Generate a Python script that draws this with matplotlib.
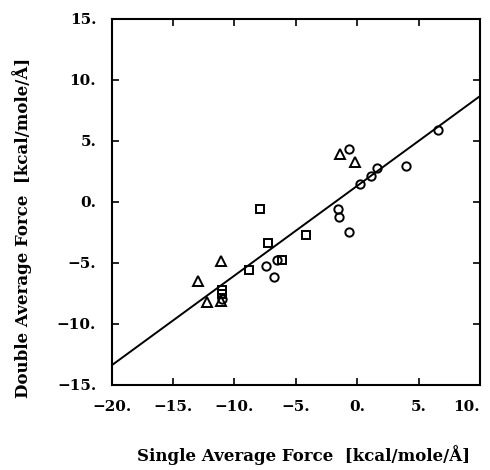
import matplotlib
matplotlib.use("Agg")
import matplotlib.pyplot as plt
import numpy as np

# Data
circle_x = [6.6, -0.65, 0.25, 1.15, 1.6, 3.95, -1.6, -1.45, -0.7, -7.4, -6.5, -6.75, -11.0]
circle_y = [5.9, 4.35, 1.45, 2.1, 2.75, 2.9, -0.6, -1.25, -2.45, -5.25, -4.8, -6.2, -8.0]
square_x = [-4.2, -7.95, -7.3, -6.1, -8.8, -11.0, -11.0]
square_y = [-2.7, -0.6, -3.4, -4.8, -5.6, -7.2, -7.55]
triangle_x = [-1.4, -0.15, -11.1, -13.0, -12.2, -11.1]
triangle_y = [3.9, 3.25, -4.85, -6.5, -8.2, -8.1]
fit_slope = 0.735
fit_intercept = 1.3
x_ticks = [-20, -15, -10, -5, 0, 5, 10]
x_tick_labels = ["\u221220.", "\u221215.", "\u221210.", "\u22125.", "0.", "5.", "10."]
y_ticks = [-15, -10, -5, 0, 5, 10, 15]
y_tick_labels = ["\u221215.", "\u221210.", "\u22125.", "0.", "5.", "10.", "15."]

plt.rcParams['font.family'] = ['DejaVu Serif']
fig = plt.figure(figsize=(4.9, 4.7), dpi=100)
ax = fig.add_axes([0.2276, 0.1809, 0.752, 0.7797])

xl = np.array([-20, 10])
ax.plot(xl, fit_slope * xl + fit_intercept, color='black', lw=1.4, zorder=2)

mkw = dict(linestyle='none', markerfacecolor='none', markeredgecolor='black',
           markeredgewidth=1.4, zorder=3)
ax.plot(circle_x, circle_y, marker='o', markersize=6, **mkw)
ax.plot(square_x, square_y, marker='s', markersize=5.5, **mkw)
ax.plot(triangle_x, triangle_y, marker='^', markersize=6.5, **mkw)

ax.set_xlim(-20, 10)
ax.set_ylim(-15, 15)
ax.set_xticks(x_ticks)
ax.set_xticklabels(x_tick_labels)
ax.set_yticks(y_ticks)
ax.set_yticklabels(y_tick_labels)
ax.tick_params(direction='in', length=5, width=1.2, top=True, right=True,
               labelsize=11)
ax.tick_params(axis='x', pad=11)
ax.tick_params(axis='y', pad=11)
for lab in ax.get_xticklabels() + ax.get_yticklabels():
    lab.set_fontweight('bold')
xlabs = ax.get_xticklabels()
xlabs[-1].set_horizontalalignment('right')
xlabs[-1].set_x(10.9)

ax.set_xlabel("Single Average Force  [kcal/mole/\u00c5]", fontsize=12,
              fontweight='bold')
ax.set_ylabel("Double Average Force  [kcal/mole/\u00c5]", fontsize=12,
              fontweight='bold')
ax.xaxis.set_label_coords(0.52, -0.165)
ax.yaxis.set_label_coords(-0.215, 0.43)
for s in ax.spines.values():
    s.set_linewidth(1.5)

fig.savefig("out.png", dpi=100)
